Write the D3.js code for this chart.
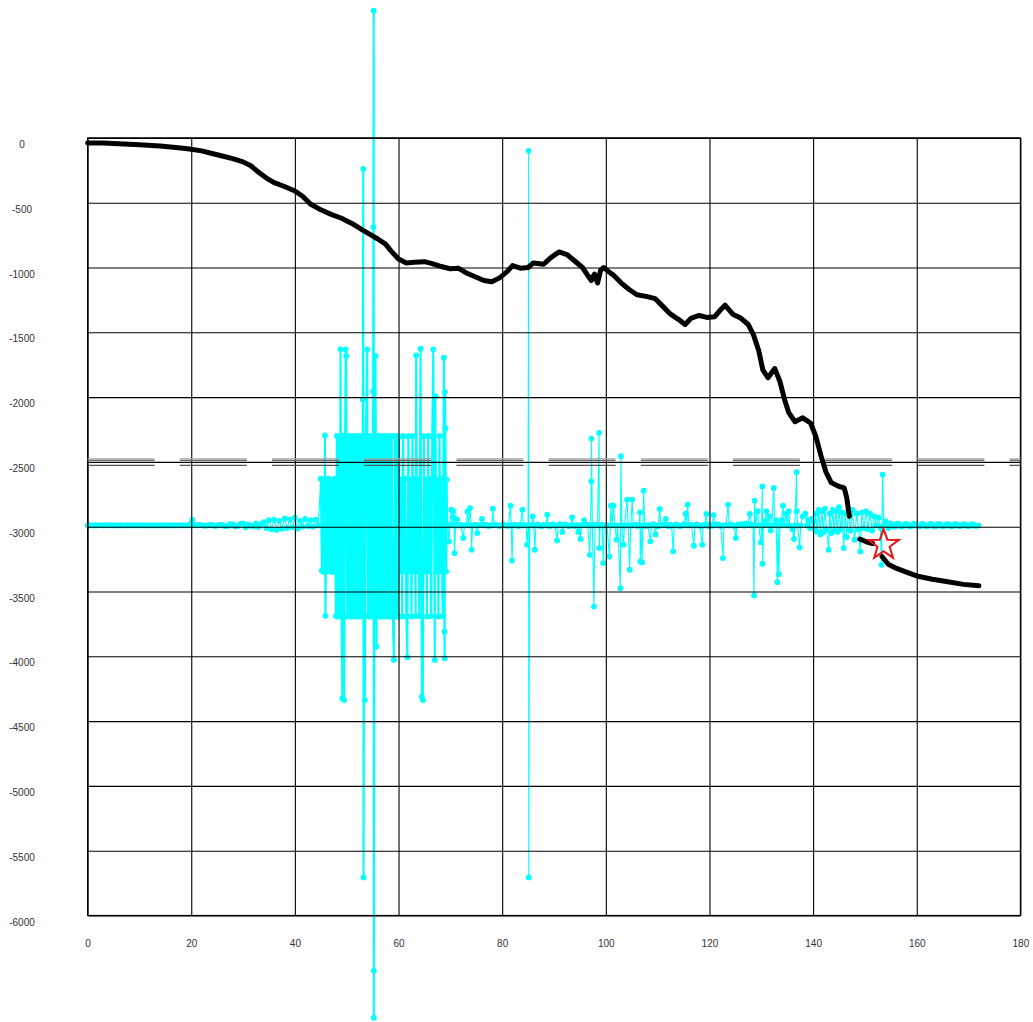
<!DOCTYPE html>
<html>
<head>
<meta charset="utf-8">
<script src="https://cdn.jsdelivr.net/npm/d3@7/dist/d3.min.js"></script>
<style>
  html, body { margin: 0; padding: 0; background: #fff; }
  svg { display: block; }
</style>
</head>
<body>
<svg id="chart" width="1033" height="1022"></svg>
<script>
// ---------- DATA ----------
const xTicks = [0, 20, 40, 60, 80, 100, 120, 140, 160, 180];
const yTicks = [0, -500, -1000, -1500, -2000, -2500, -3000, -3500, -4000, -4500, -5000, -5500, -6000];

// black profile (null = break)
const blackLine = [
  [0,-39],[3,-40],[6,-45],[10,-52],[14,-62],[18,-78],[20,-88],[22,-100],[24,-120],[26,-140],[28,-160],[30,-185],
  [31.5,-215],[33,-265],[34.5,-310],[36,-345],[38,-375],[40,-410],[41.5,-450],[43,-510],[45,-555],[47,-590],
  [49,-620],[51,-660],[53,-710],[54.5,-745],[56,-780],[57.5,-820],[58.5,-870],[60,-935],[61.5,-965],[63,-960],
  [65,-955],[66.5,-970],[68,-990],[70,-1010],[71.5,-1005],[73,-1040],[75,-1075],[76.5,-1100],[78,-1110],
  [79.5,-1080],[81,-1030],[82,-985],[83.5,-1005],[85,-1000],[86,-965],[88,-975],[89.5,-920],[91,-880],
  [92.5,-900],[94,-950],[95.5,-1000],[96.5,-1060],[97.2,-1100],[97.8,-1050],[98.4,-1120],[99,-1020],
  [99.6,-1000],[100.5,-1030],[101.5,-1060],[103,-1120],[104.5,-1170],[106,-1210],[108,-1225],[109.5,-1240],
  [111,-1300],[112.5,-1360],[114,-1400],[115.3,-1440],[116.5,-1390],[118,-1370],[119.5,-1385],[121,-1380],
  [122.3,-1320],[123,-1290],[124.5,-1360],[126,-1390],[127.5,-1440],[128.5,-1520],[129.5,-1640],[130.3,-1790],
  [131.3,-1850],[132.6,-1780],[133.6,-1880],[134.5,-2020],[135.3,-2120],[136.5,-2190],[138,-2160],[139.5,-2200],
  [140.5,-2300],[141.5,-2450],[142.5,-2580],[143.5,-2660],[145,-2690],[146,-2700],[146.5,-2780],[147,-2920],
  null,
  [149,-3095],[150.5,-3120],[151.5,-3130],
  null,
  [153.3,-3230],[154.5,-3290],[156,-3320],[158,-3350],[160,-3380],[163,-3405],[166,-3425],[169,-3445],[172,-3455]
];

// cyan series, quiet start
const cyanQuiet = [
  [0,-2990],[0.5,-2988],[1,-2991],[1.5,-2989],[2,-2990],[2.5,-2988],[3,-2991],[3.5,-2989],[4,-2990],[4.5,-2988],
  [5,-2991],[5.5,-2989],[6,-2990],[6.5,-2988],[7,-2991],[7.5,-2989],[8,-2990],[8.5,-2988],[9,-2991],[9.5,-2989],
  [10,-2990],[10.5,-2988],[11,-2991],[11.5,-2989],[12,-2990],[12.5,-2988],[13,-2991],[13.5,-2989],[14,-2990],
  [14.5,-2988],[15,-2991],[15.5,-2989],[16,-2990],[16.5,-2988],[17,-2991],[17.5,-2989],[18,-2990],[18.5,-2988],
  [19,-2991],[19.5,-2989],[20,-2975],[20.2,-2948],[20.5,-2985],[21,-2990],[21.5,-2987],[22,-2988],[22.5,-2993],
  [23,-2992],[23.5,-2986],[24,-2987],[24.5,-2994],[25,-2991],[25.5,-2984],[26,-2986],[26.5,-2996],[27,-2994],
  [27.5,-2980],[28,-2982],[28.5,-2998],[29,-2995],[29.5,-2978],[30,-2975],[30.5,-3005],[31,-2984],[31.5,-2992],
  [32,-2998],[32.5,-2975],[33,-3002],[33.5,-2980],[34,-2965],[34.5,-3010],[35,-2950],[35.5,-3020],[36,-2945],
  [36.5,-3025],[37,-2955],[37.5,-3015],[38,-2935],[38.5,-3010],[39,-2945],[39.5,-3005],[40,-2930],[40.5,-3015],
  [41,-2955],[41.5,-3000],[42,-2940],[42.5,-2995],[43,-2950],[43.5,-3000],[44,-2945],[44.5,-2990]
];

// cyan series, dense oscillating block
const cyanDense = [
  [45.0,-2630],[45.2,-3340],[45.4,-2640],[45.6,-3350],[45.8,-2296],[45.9,-3688],[46.1,-2636],[46.3,-3345],
  [46.5,-2630],[46.7,-3340],[46.9,-2640],[47.1,-3350],[47.3,-2636],[47.5,-3345],[47.7,-2630],
  [47.9,-3690],[48.1,-2300],[48.3,-3695],[48.5,-2305],[48.7,-3690],[48.8,-1631],[49.0,-3690],[49.15,-4325],
  [49.3,-2300],[49.5,-4338],[49.7,-2305],[49.8,-1631],[49.9,-1683],[50.1,-3693],[50.3,-2302],[50.5,-3690],
  [50.7,-2300],[50.9,-3695],[51.1,-2305],[51.3,-3690],[51.5,-2300],[51.7,-3693],[51.9,-2302],[52.1,-3690],
  [52.3,-2300],[52.5,-3695],[52.7,-2305],[52.9,-3690],[53.1,-2018],[53.2,-240],[53.25,-5706],[53.4,-2300],
  [53.5,-4338],[53.7,-2302],[53.96,-1631],[54.1,-3690],[54.3,-2300],[54.5,-3695],[54.7,-2305],[54.9,-3690],
  [55.1,-1954],[55.15,-688],[55.2,982],[55.22,-6789],[55.24,-6425],[55.4,-2300],[55.55,-1683],[55.75,-3925],
  [55.9,-2302],[56.1,-3690],[56.3,-2300],[56.5,-3695],[56.7,-2305],[56.9,-3690],[57.1,-2300],[57.3,-3693],
  [57.5,-2302],[57.7,-3690],[57.9,-2300],[58.1,-3695],[58.3,-2305],[58.5,-3690],[58.7,-2300],[58.9,-3693],
  [59.1,-4028],[59.3,-2302],[59.5,-3690],[59.7,-2300],[59.9,-3695],[60.1,-2305],[60.3,-3345],[60.5,-2636],
  [60.7,-3693],[60.9,-2300],[61.1,-3345],[61.3,-2630],[61.5,-3690],[61.7,-4008],[61.9,-2302],[62.1,-3340],
  [62.3,-2636],[62.5,-3693],[62.7,-2300],[62.9,-3345],[63.1,-2630],[63.3,-3690],[63.4,-1678],[63.6,-3345],
  [63.8,-2636],[64.0,-3690],[64.25,-1626],[64.5,-4312],[64.7,-4338],[64.9,-2302],[65.1,-3345],[65.3,-2636],
  [65.5,-3693],[65.7,-2300],[65.9,-3345],[66.1,-2630],[66.3,-3690],[66.5,-2305],[66.7,-1631],[67.0,-4028],
  [67.1,-1992],[67.3,-3345],[67.5,-2636],[67.7,-3693],[67.9,-2300],[68.1,-3345],[68.3,-2630],[68.5,-3690],
  [68.75,-1696],[68.85,-3809],[68.9,-4015],[68.95,-1961],[69.05,-2242],[69.2,-3345],[69.3,-2636]
];

// cyan series, sparse spikes to the end
const cyanSparse = [
  [69.5,-2990],[69.7,-3114],[69.9,-2985],[70.2,-2869],[70.4,-2990],[70.56,-2882],[70.7,-2928],[70.8,-3204],
  [71.0,-2990],[71.3,-2945],[71.6,-2992],[72.0,-2985],[72.5,-3087],[72.7,-2990],[73.1,-2988],[73.3,-2882],
  [73.5,-2990],[73.8,-2856],[74.0,-2990],[74.1,-3178],[74.3,-2990],[74.8,-2985],[75.2,-3049],[75.4,-2990],
  [75.8,-2988],[76.1,-2940],[76.3,-2990],[76.7,-2985],[77.0,-2986],[77.3,-2994],[77.6,-2992],[78.0,-2988],
  [78.2,-2861],[78.4,-2990],[78.7,-2984],[79.0,-2986],[79.4,-2995],[79.8,-2992],[80.2,-2983],[80.5,-2988],
  [80.9,-2994],[81.2,-2990],[81.6,-2838],[81.75,-2990],[81.9,-3260],[82.1,-2988],[82.5,-2984],[82.8,-2992],
  [83.2,-2995],[83.5,-2985],[83.9,-2869],[84.1,-2990],[84.6,-2988],[84.8,-3139],[85.0,-2990],[85.1,-100],
  [85.13,-5706],[85.3,-2988],[85.7,-2990],[85.9,-2920],[86.1,-2990],[86.3,-3178],[86.5,-2988],[86.9,-2983],
  [87.2,-2992],[87.6,-2996],[88.0,-2986],[88.5,-2990],[88.7,-2907],[88.9,-2990],[89.2,-2996],[89.5,-2985],
  [89.9,-2982],[90.2,-2992],[90.6,-3106],[90.8,-2990],[91.1,-2980],[91.4,-2985],[91.6,-3040],[91.8,-2990],
  [92.1,-2982],[92.5,-2988],[92.9,-2996],[93.2,-2990],[93.5,-2928],[93.7,-2990],[94.0,-2995],[94.3,-2986],
  [94.7,-3040],[94.9,-2990],[95.1,-3095],[95.3,-2988],[95.8,-2950],[96.0,-2990],[96.5,-2985],[96.9,-3217],
  [97.05,-2990],[97.2,-2650],[97.22,-2320],[97.4,-2990],[97.7,-3616],[97.9,-2985],[98.4,-2990],[98.7,-2276],
  [98.75,-3165],[98.9,-2990],[99.3,-2985],[99.5,-3281],[99.7,-2990],[100.2,-2988],[100.7,-3230],[100.85,-2990],
  [101.0,-2838],[101.2,-2990],[101.5,-2838],[101.7,-2990],[102.1,-3100],[102.3,-2990],[102.8,-3474],[102.9,-2456],
  [103.1,-2990],[103.4,-3139],[103.6,-2990],[104.1,-2791],[104.3,-2990],[104.6,-3332],[104.8,-2990],[105.1,-2791],
  [105.3,-2990],[105.8,-2985],[106.1,-2995],[106.4,-2990],[106.6,-2889],[106.65,-3268],[106.8,-2990],[107.0,-3276],
  [107.15,-2990],[107.3,-2722],[107.5,-2990],[107.8,-2996],[108.1,-2986],[108.6,-3113],[108.8,-2990],[109.2,-2980],
  [109.6,-3060],[109.8,-2990],[110.1,-2996],[110.4,-2863],[110.6,-2990],[110.9,-2982],[111.2,-2986],[111.6,-2940],
  [111.8,-2990],[112.1,-2996],[112.4,-2985],[112.7,-2992],[113.0,-3191],[113.2,-2990],[113.6,-2982],[113.9,-2988],
  [114.2,-2996],[114.6,-2992],[115.0,-2982],[115.4,-2900],[115.6,-2990],[115.8,-2830],[116.0,-2990],[116.5,-2985],
  [117.0,-3147],[117.2,-2990],[117.5,-2982],[117.9,-2988],[118.2,-2996],[118.6,-3139],[118.8,-2990],[119.1,-2982],
  [119.4,-2902],[119.6,-2990],[119.9,-2996],[120.2,-2986],[120.5,-2993],[120.8,-2910],[121.0,-2990],[121.4,-2982],
  [121.8,-2985],[122.2,-2995],[122.6,-3242],[122.8,-2990],[123.2,-2988],[123.6,-2830],[123.8,-2990],[124.1,-2982],
  [124.4,-2985],[124.8,-2996],[125.1,-3087],[125.3,-2990],[125.6,-2982],[126.0,-2988],[126.4,-2980],[126.8,-2992],
  [127.1,-2975],[127.4,-2985],[127.8,-2902],[128.0,-2990],[128.4,-2985],[128.6,-3531],[128.7,-2799],[128.9,-2990],
  [129.3,-2880],[129.5,-2990],[129.9,-3121],[130.05,-2990],[130.2,-2689],[130.25,-3286],[130.4,-2990],[130.7,-2960],
  [131.0,-2880],[131.2,-2990],[131.6,-2920],[131.8,-3030],[132.0,-2990],[132.4,-2701],[132.6,-2990],[132.85,-2950],
  [133.1,-3428],[133.25,-2990],[133.4,-3366],[133.6,-2990],[133.9,-2950],[134.2,-2838],[134.4,-2990],[134.8,-2900],
  [135.0,-2990],[135.3,-2880],[135.5,-2990],[136.0,-3020],[136.3,-3095],[136.5,-2990],[136.8,-2580],[136.85,-2880],
  [137.0,-2990],[137.4,-3160],[137.6,-2990],[138.0,-2920],[138.5,-2900],[138.8,-2990],[139.1,-2950],[139.4,-3010],
  [139.7,-2940],[140.0,-2960],[140.25,-3020],[140.5,-2900],[140.8,-3040],[141.1,-2870],[141.4,-3060],[141.7,-2880],
  [142.0,-3040],[142.3,-2860],[142.6,-3020],[143.0,-3178],[143.2,-2900],[143.5,-3050],[143.8,-2870],[144.1,-3030],
  [144.4,-2880],[144.7,-3040],[145.0,-2850],[145.3,-3020],[145.6,-2890],[145.9,-3165],[146.2,-2900],[146.5,-3080],
  [146.8,-2880],[147.2,-3030],[147.6,-2870],[148.0,-3100],[148.4,-2900],[148.8,-3020],[149.1,-3191],[149.4,-2890],
  [149.8,-3010],[150.2,-2880],[150.6,-3020],[151.0,-2900],[151.4,-3030],[151.8,-2920],[152.2,-2990],[152.6,-2930],
  [153.0,-3010],[153.2,-3294],[153.4,-2598],[153.6,-2990],[154.0,-2960],[154.5,-3010],[155.0,-2975],[155.4,-2998],
  [155.8,-3000],[156.2,-2976],[156.6,-2978],[157.0,-3000],[157.4,-2995],[157.8,-2978],[158.2,-2982],[158.6,-2998],
  [159.0,-2995],[159.4,-2977],[159.8,-2980],[160.2,-2999],[160.6,-2996],[161.0,-2979],[161.4,-2982],[161.8,-2997],
  [162.2,-2994],[162.6,-2978],[163.0,-2983],[163.4,-2998],[163.8,-2995],[164.2,-2979],[164.6,-2984],[165.0,-2997],
  [165.4,-2994],[165.8,-2980],[166.2,-2983],[166.6,-2998],[167.0,-2995],[167.4,-2979],[167.8,-2984],[168.2,-2996],
  [168.6,-2993],[169.0,-2980],[169.4,-2984],[169.8,-2997],[170.2,-2994],[170.6,-2981],[171.0,-2985],[171.4,-2995],
  [171.9,-2990]
];

// horizontal dashed reference levels
const refLevels = [-2476, -2489, -2527];
const refColors = ["#a8a8a8", "#6a6a6a", "#555555"];

// star marker
const starPoint = [153.6, -3140];

// ---------- CHART ----------
const svg = d3.select("#chart");
svg.append("rect").attr("width", 1033).attr("height", 1022).attr("fill", "#fff");

const mLeft = 87.6, mRight = 1020.4, mTop = 137.9, mBottom = 915.5;
const x = d3.scaleLinear().domain([0, 180]).range([mLeft, mRight]);
const y = d3.scaleLinear().domain([-6000, 0]).range([mBottom, mTop]);

const cyanAll = cyanQuiet.concat(cyanDense, cyanSparse);

// cyan series
const cyanLine = d3.line().x(d => x(d[0])).y(d => y(d[1]));
svg.append("path")
  .datum(cyanAll)
  .attr("d", cyanLine)
  .attr("fill", "none")
  .attr("stroke", "#00ffff")
  .attr("stroke-width", 1.1);
// denser stroke where the series oscillates rapidly
svg.append("path")
  .datum(cyanDense)
  .attr("d", cyanLine)
  .attr("fill", "none")
  .attr("stroke", "#00ffff")
  .attr("stroke-width", 2);
svg.append("g").selectAll("circle")
  .data(cyanAll)
  .join("circle")
  .attr("cx", d => x(d[0]))
  .attr("cy", d => y(d[1]))
  .attr("r", 2.9)
  .attr("fill", "#00ffff");

// grid via axes
const xAxis = d3.axisBottom(x).tickValues(xTicks).tickSize(-(mBottom - mTop)).tickPadding(24)
  .tickFormat(d => String(d));
const gx = svg.append("g").attr("transform", `translate(0,${mBottom})`).call(xAxis);
gx.select(".domain").remove();
gx.selectAll("line").attr("stroke", "#000").attr("stroke-width", 1.1);
gx.selectAll("text").attr("fill", "#333").attr("font-family", "Liberation Sans, Arial, sans-serif")
  .attr("font-size", 10);

const yAxis = d3.axisLeft(y).tickValues(yTicks).tickSize(-(mRight - mLeft)).tickFormat(d => String(d));
const gy = svg.append("g").attr("transform", `translate(${mLeft},0)`).call(yAxis);
gy.select(".domain").remove();
gy.selectAll("line").attr("stroke", "#000").attr("stroke-width", 1.1);
gy.selectAll("text")
  .attr("x", 22 - mLeft)
  .attr("dy", "0.95em")
  .attr("text-anchor", "middle")
  .attr("fill", "#333")
  .attr("font-family", "Liberation Sans, Arial, sans-serif")
  .attr("font-size", 10);

// plot frame
svg.append("rect")
  .attr("x", mLeft).attr("y", mTop)
  .attr("width", mRight - mLeft).attr("height", mBottom - mTop)
  .attr("fill", "none").attr("stroke", "#000").attr("stroke-width", 1.2);

// dashed reference lines
svg.append("g").selectAll("line")
  .data(refLevels)
  .join("line")
  .attr("x1", mLeft).attr("x2", mRight)
  .attr("y1", d => y(d)).attr("y2", d => y(d))
  .attr("stroke", (d, i) => refColors[i])
  .attr("stroke-width", 1.3)
  .attr("stroke-dasharray", "67,25.2");

// black profile
const blackPath = d3.line()
  .defined(d => d !== null)
  .x(d => x(d[0])).y(d => y(d[1]))
  .curve(d3.curveLinear);
svg.append("path")
  .datum(blackLine)
  .attr("d", blackPath)
  .attr("fill", "none")
  .attr("stroke", "#000")
  .attr("stroke-width", 5)
  .attr("stroke-linejoin", "round")
  .attr("stroke-linecap", "round");

// star
const starR = 16, starr = 6.4;
const starPts = d3.range(10).map(i => {
  const a = -Math.PI / 2 + i * Math.PI / 5;
  const r = i % 2 === 0 ? starR : starr;
  return [x(starPoint[0]) + r * Math.cos(a), y(starPoint[1]) + r * Math.sin(a)];
});
svg.append("polygon")
  .attr("points", starPts.map(p => p.join(",")).join(" "))
  .attr("fill", "none")
  .attr("stroke", "#ee1111")
  .attr("stroke-width", 2);
</script>
</body>
</html>
